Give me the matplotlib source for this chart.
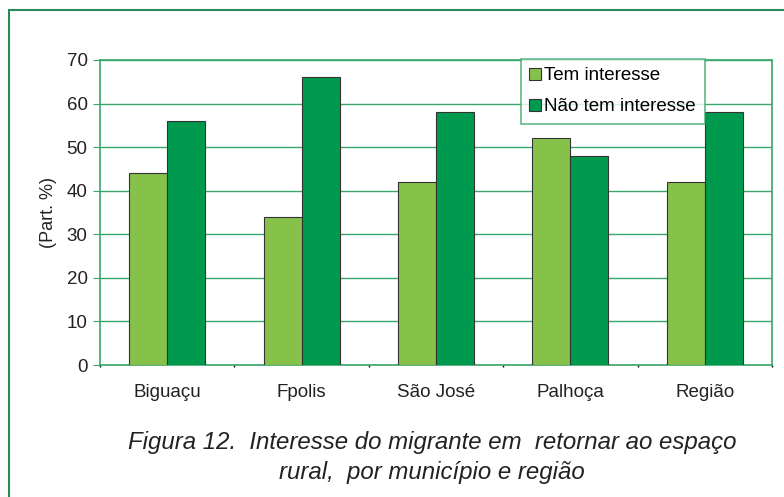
import numpy as np
import matplotlib.pyplot as plt
from matplotlib.patches import Rectangle

plt.rcParams['font.family'] = ['Liberation Sans', 'DejaVu Sans']

# data
cidades = ['Biguaçu', 'Fpolis', 'São José', 'Palhoça', 'Região']
tem_interesse = [44, 34, 42, 52, 42]
nao_tem_interesse = [56, 66, 58, 48, 58]
series_names = ['Tem interesse', 'Não tem interesse']
yticks = [0, 10, 20, 30, 40, 50, 60, 70]

verde_claro = '#86c24a'
verde_escuro = '#009a4f'
verde_linha = '#3aa66a'

fig = plt.figure(figsize=(7.84, 4.97), dpi=100)
ax = fig.add_axes([100 / 784, 1 - 365 / 497, 672 / 784, 305 / 497])

# outer frame (right and bottom cut off in the original)
fig.patches.append(Rectangle((9 / 784, -0.1), 1.2, 1 - 9.5 / 497 + 0.1,
                             transform=fig.transFigure, fill=False,
                             edgecolor='#2a8a55', linewidth=1.5))

x = np.arange(len(cidades))
w = 0.283
ax.bar(x - w / 2, tem_interesse, w, color=verde_claro, edgecolor='#333333',
       linewidth=0.8, label=series_names[0], zorder=3)
ax.bar(x + w / 2, nao_tem_interesse, w, color=verde_escuro, edgecolor='#333333',
       linewidth=0.8, label=series_names[1], zorder=3)

ax.set_xlim(-0.5, len(cidades) - 0.5)
ax.set_ylim(0, 70)
ax.set_yticks(yticks)
ax.yaxis.grid(True, color=verde_linha, linewidth=1)
ax.set_axisbelow(True)
for s in ax.spines.values():
    s.set_color(verde_linha)
    s.set_linewidth(1.2)

ax.set_xticks(x)
ax.set_xticklabels(cidades, fontsize=13.5, color='#222222')
ax.tick_params(axis='x', length=0, pad=14)
ax.set_xticks(np.arange(len(cidades) + 1) - 0.5, minor=True)
ax.tick_params(axis='x', which='minor', length=1.5, width=1, color='black', pad=0)
ax.tick_params(axis='y', length=5, color=verde_linha, labelsize=13.5,
               labelcolor='#222222', pad=4)
ax.set_ylabel('(Part. %)', fontsize=13, color='#222222', labelpad=7)

leg = ax.legend(loc='upper left', bbox_to_anchor=(421 / 672, 1.0035),
                fontsize=13.5, frameon=True, fancybox=False, borderpad=0.45,
                handlelength=0.6, handleheight=0.6, handletextpad=0.2,
                labelspacing=0.75, borderaxespad=0)
leg.get_frame().set_edgecolor(verde_linha)
leg.get_frame().set_linewidth(1.2)

fig.text(432 / 784, 1 - 442 / 497, 'Figura 12.  Interesse do migrante em  retornar ao espaço',
         ha='center', va='center', fontsize=17.3, style='italic', color='#222222')
fig.text(432 / 784, 1 - 473 / 497, 'rural,  por município e região',
         ha='center', va='center', fontsize=17.3, style='italic', color='#222222')

fig.savefig('out.png', dpi=100)
